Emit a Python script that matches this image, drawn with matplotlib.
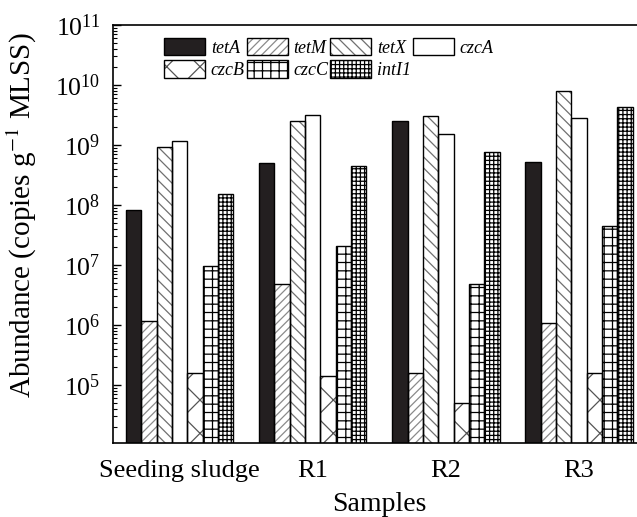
import numpy as np
import matplotlib
matplotlib.use('Agg')
import matplotlib.pyplot as plt
from matplotlib.ticker import LogLocator, LogFormatterMathtext, NullFormatter

plt.rcParams['font.family'] = ['Liberation Serif', 'DejaVu Serif']
plt.rcParams['mathtext.fontset'] = 'stix'
plt.rcParams['hatch.linewidth'] = 0.9

samples = ['Seeding sludge', 'R1', 'R2', 'R3']
genes = ['tetA', 'tetM', 'tetX', 'czcA', 'czcB', 'czcC', 'intI1']

# copies per g MLSS
tetA = [8.3e7, 5.1e8, 2.55e9, 5.3e8]
tetM = [1.15e6, 4.8e6, 1.6e5, 1.1e6]
tetX = [9.3e8, 2.5e9, 3.0e9, 8.0e9]
czcA = [1.18e9, 3.15e9, 1.5e9, 2.85e9]
czcB = [1.6e5, 1.4e5, 5.0e4, 1.6e5]
czcC = [9.5e6, 2.05e7, 4.8e6, 4.5e7]
intI1 = [1.5e8, 4.4e8, 7.5e8, 4.3e9]
values = [tetA, tetM, tetX, czcA, czcB, czcC, intI1]
exponents = [5, 6, 7, 8, 9, 10, 11]

# (face, hatch, hatch colour)
styles = [('#231f20', '', '#231f20'),
          ('white', '////', '#8a8a8a'),
          ('white', '\\\\\\', '#707070'),
          ('white', '', 'black'),
          ('white', 'x', '#555555'),
          ('white', '++', 'black'),
          ('white', '++++', 'black')]

fig = plt.figure(figsize=(6.37, 5.17), dpi=100)
ax = fig.add_axes([113 / 637, 74 / 517, 524 / 637, 418 / 517])

x = np.arange(len(samples))
w = 0.115
handles = []
for i, (g, v) in enumerate(zip(genes, values)):
    fc, hatch, hc = styles[i]
    pos = x + (i - 3) * w
    hb = ax.bar(pos, v, w, color=fc, hatch=hatch, edgecolor=hc, linewidth=0, zorder=2)
    eb = ax.bar(pos, v, w, fill=False, edgecolor='black', linewidth=1.0, zorder=3)
    handles.append((hb.patches[0], eb.patches[0]))

ax.set_yscale('log')
ax.set_ylim(1.08e4, 1e11)
ax.set_xlim(-0.5, 3.435)  # right side is cut by the figure edge
ax.set_yticks([10.0 ** e for e in exponents])
ax.yaxis.set_minor_locator(LogLocator(base=10, subs=np.arange(2, 10), numticks=12))
ax.yaxis.set_major_formatter(LogFormatterMathtext())
ax.yaxis.set_minor_formatter(NullFormatter())
ax.tick_params(axis='y', which='major', direction='in', length=6, width=1, labelsize=18.5, pad=9)
ax.tick_params(axis='y', which='minor', direction='in', length=3, width=0.8)
ax.tick_params(axis='x', length=0, labelsize=19, pad=12)
ax.set_xticks(x)
ax.set_xticklabels(samples)

ax.spines['right'].set_visible(False)
for s in ['left', 'bottom', 'top']:
    ax.spines[s].set_linewidth(1.2)

ax.set_ylabel('Abundance (copies g$^{-1}$ MLSS)', fontsize=21)
ax.yaxis.set_label_coords(-0.141, 0.545)
ax.set_xlabel('Samples', fontsize=20)
ax.xaxis.set_label_coords(0.508, -0.118)

# legend reads row by row: tetA tetM tetX czcA / czcB czcC intI1
order = [0, 4, 1, 5, 2, 6, 3]
ax.legend([handles[k] for k in order], [genes[k] for k in order], ncol=4,
          loc='upper left', bbox_to_anchor=(0.098, 0.969),
          frameon=False, borderpad=0, borderaxespad=0,
          prop={'style': 'italic', 'size': 13},
          handlelength=2.27, handleheight=1.1, handletextpad=0.3,
          columnspacing=0.12, labelspacing=0.2)

fig.savefig('out.png', dpi=100)
